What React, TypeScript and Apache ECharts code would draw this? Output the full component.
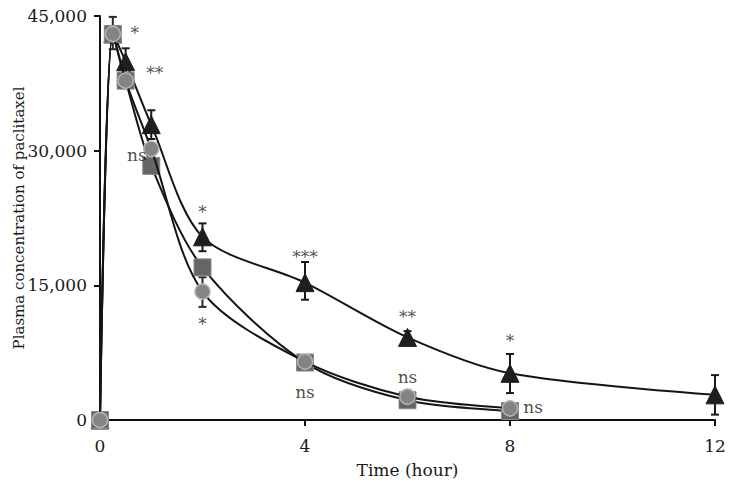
import React, { useEffect, useRef } from "react";
import * as echarts from "echarts";

const times = [0, 0.25, 0.5, 1, 2, 4, 6, 8, 12];
const triangleValues = [0, 43000, 39900, 32900, 20400, 15300, 9200, 5200, 2800];
const squareTimes = [0, 0.25, 0.5, 1, 2, 4, 6, 8];
const squareValues = [0, 43000, 37800, 28300, 17000, 6400, 2200, 1000];
const circleValues = [0, 43000, 37800, 30200, 14300, 6500, 2600, 1300];

// [time, low, high]
const triangleErrors = [
  [0.5, 38400, 41400],
  [1, 31300, 34500],
  [2, 18800, 21900],
  [4, 13400, 17600],
  [6, 8600, 9900],
  [8, 3000, 7350],
  [12, 600, 5000],
];
const circleErrors = [
  [0.25, 41300, 44900],
  [2, 12600, 15900],
  [6, 2000, 3300],
];

// [time, value, text]
const annotations: [number, number, string][] = [
  [0.68, 43100, "*"],
  [1.07, 38600, "**"],
  [0.72, 29500, "ns"],
  [2.0, 23200, "*"],
  [2.0, 10700, "*"],
  [4.0, 18200, "***"],
  [4.0, 3100, "ns"],
  [6.0, 11500, "**"],
  [6.0, 4800, "ns"],
  [8.0, 8800, "*"],
  [8.45, 1450, "ns"],
];

const yTicks = [0, 15000, 30000, 45000];
const yName = "Plasma concentration of paclitaxel";
const xName = "Time (hour)";
const FONT = "DejaVu Serif";
const FS = 17;

function errorSeries(data: number[][], color: string) {
  return {
    type: "custom",
    z: 1,
    data,
    renderItem: (params: any, api: any) => {
      const x = api.value(0);
      const lo = api.coord([x, api.value(1)]);
      const hi = api.coord([x, api.value(2)]);
      const w = 4;
      const style = { stroke: color, lineWidth: 2 };
      return {
        type: "group",
        children: [
          { type: "line", shape: { x1: lo[0], y1: lo[1], x2: hi[0], y2: hi[1] }, style },
          { type: "line", shape: { x1: hi[0] - w, y1: hi[1], x2: hi[0] + w, y2: hi[1] }, style },
          { type: "line", shape: { x1: lo[0] - w, y1: lo[1], x2: lo[0] + w, y2: lo[1] }, style },
        ],
      };
    },
  };
}

export default function App() {
  const ref = useRef<HTMLDivElement>(null);
  useEffect(() => {
    if (!ref.current) return;
    document.body.style.margin = "0";
    const chart = echarts.init(ref.current, null, { renderer: "svg" });
    const lineStyle = { color: "#151515", width: 2 };
    chart.setOption({
      animation: false,
      backgroundColor: "#ffffff",
      grid: { left: 100, right: 18, top: 16, bottom: 68, outerBoundsMode: "none", containLabel: false },
      graphic: [
        {
          type: "text",
          x: 19,
          y: 218,
          rotation: Math.PI / 2,
          style: {
            text: yName,
            fontFamily: FONT,
            fontSize: 15,
            fill: "#1a1a1a",
            align: "center",
            verticalAlign: "middle",
          },
        },
      ],
      xAxis: {
        type: "value",
        min: 0,
        max: 12,
        interval: 4,
        name: xName,
        nameLocation: "middle",
        nameGap: 41,
        nameTextStyle: { fontFamily: FONT, fontSize: FS, color: "#1a1a1a" },
        axisLine: { lineStyle: { color: "#111", width: 2 } },
        axisTick: { show: true, length: 6, lineStyle: { color: "#111", width: 2 } },
        axisLabel: { fontFamily: FONT, fontSize: FS, color: "#1a1a1a", margin: 17 },
        splitLine: { show: false },
      },
      yAxis: {
        type: "value",
        min: 0,
        max: 45000,
        interval: 15000,
        axisLine: { show: true, lineStyle: { color: "#111", width: 2 } },
        axisTick: { show: true, length: 6, lineStyle: { color: "#111", width: 2 } },
        axisLabel: {
          fontFamily: FONT,
          fontSize: FS,
          color: "#1a1a1a",
          margin: 13,
          formatter: (v: number) => (yTicks.includes(v) ? v.toLocaleString("en-US") : ""),
        },
        splitLine: { show: false },
      },
      series: [
        errorSeries(triangleErrors, "#1a1a1a"),
        errorSeries(circleErrors, "#2a2a2a"),
        {
          type: "line",
          z: 2,
          smooth: 0.3,
          data: times.map((t, i) => [t, triangleValues[i]]),
          symbol: "triangle",
          symbolSize: 18,
          itemStyle: { color: "#1e1e1e", borderColor: "#1e1e1e", borderWidth: 1 },
          lineStyle,
        },
        {
          type: "line",
          z: 3,
          smooth: 0.3,
          data: squareTimes.map((t, i) => [t, squareValues[i]]),
          symbol: "rect",
          symbolSize: 17,
          itemStyle: { color: "#656565", borderColor: "#8a8a8a", borderWidth: 1 },
          lineStyle,
        },
        {
          type: "line",
          z: 4,
          smooth: 0.3,
          data: squareTimes.map((t, i) => [t, circleValues[i]]),
          symbol: "circle",
          symbolSize: 15,
          itemStyle: { color: "#848484", borderColor: "#b4b4b4", borderWidth: 1.5 },
          lineStyle,
        },
        {
          type: "scatter",
          z: 5,
          symbolSize: 0,
          data: annotations.map((a) => ({ value: [a[0], a[1]], name: a[2] })),
          label: {
            show: true,
            position: "inside",
            formatter: (p: any) => p.name,
            fontFamily: FONT,
            fontSize: FS,
            color: "#1a1a1a",
          },
          silent: true,
        },
      ],
    });
    return () => chart.dispose();
  }, []);
  return <div ref={ref} style={{ width: 733, height: 488 }} />;
}
